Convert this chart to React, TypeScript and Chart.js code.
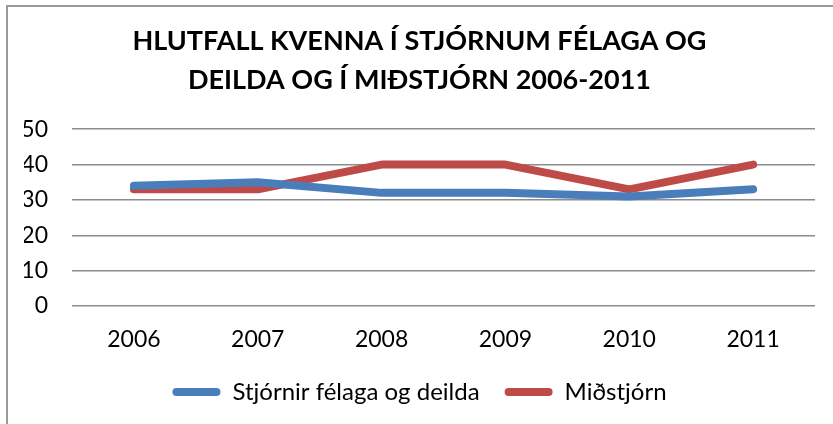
import React, { useEffect, useRef } from "react";
import { Chart, registerables } from "chart.js";

Chart.register(...registerables);

const TITLE_LINES = ["HLUTFALL KVENNA Í STJÓRNUM FÉLAGA OG", "DEILDA OG Í MIÐSTJÓRN 2006-2011"];
const YEARS = ["2006", "2007", "2008", "2009", "2010", "2011"];
const SERIES_NAMES = ["Stjórnir félaga og deilda", "Miðstjórn"];
const STJORNIR_VALUES = [34, 35, 32, 32, 31, 33];
const MIDSTJORN_VALUES = [33, 33, 40, 40, 33, 40];
const SERIES_COLORS = ["#4A7EBB", "#BE4B48"];
const Y_MIN = 0;
const Y_MAX = 50;
const Y_STEP = 10;

const FONT = "Lato, 'Open Sans', sans-serif";

const frameBorder = {
  id: "frameBorder",
  beforeDraw(chart: any) {
    const ctx = chart.ctx;
    ctx.save();
    ctx.strokeStyle = "#9a9a9a";
    ctx.lineWidth = 2;
    ctx.beginPath();
    ctx.moveTo(7, chart.height);
    ctx.lineTo(7, 6);
    ctx.lineTo(chart.width, 6);
    ctx.stroke();
    ctx.restore();
  },
};

export default function App() {
  const ref = useRef<HTMLCanvasElement | null>(null);

  useEffect(() => {
    document.body.style.margin = "0";
    const canvas = ref.current;
    if (!canvas) return;
    const chart = new Chart(canvas, {
      type: "line",
      data: {
        labels: YEARS,
        datasets: [
          {
            label: SERIES_NAMES[0],
            data: STJORNIR_VALUES,
            borderColor: SERIES_COLORS[0],
            backgroundColor: SERIES_COLORS[0],
            borderWidth: 8,
            borderCapStyle: "round",
            borderJoinStyle: "round",
            pointRadius: 0,
            tension: 0,
          },
          {
            label: SERIES_NAMES[1],
            data: MIDSTJORN_VALUES,
            borderColor: SERIES_COLORS[1],
            backgroundColor: SERIES_COLORS[1],
            borderWidth: 8,
            borderCapStyle: "round",
            borderJoinStyle: "round",
            pointRadius: 0,
            tension: 0,
          },
        ],
      },
      options: {
        responsive: false,
        animation: false,
        layout: { padding: { left: 24, right: 18, top: 0, bottom: 10 } },
        plugins: {
          title: {
            display: true,
            text: TITLE_LINES,
            color: "#000",
            font: { family: FONT, size: 27, weight: "bold", lineHeight: 1.43 },
            padding: { top: 22, bottom: 30 },
          },
          legend: {
            display: true,
            position: "bottom",
            labels: {
              color: "#000",
              font: { family: FONT, size: 24 },
              boxWidth: 48,
              boxHeight: 8,
              padding: 25,
              generateLabels: (c: any) =>
                c.data.datasets.map((ds: any, i: number) => ({
                  text: ds.label,
                  fillStyle: ds.borderColor,
                  strokeStyle: ds.borderColor,
                  lineWidth: 0,
                  borderRadius: 4,
                  fontColor: "#000",
                  datasetIndex: i,
                  hidden: false,
                })),
            },
          },
          tooltip: { enabled: false },
        },
        scales: {
          x: {
            offset: true,
            afterFit: (axis: any) => {
              axis.height = 49;
            },
            grid: { display: false, drawTicks: false, tickLength: 0 },
            border: { display: false },
            ticks: { color: "#000", font: { family: FONT, size: 23 }, padding: 20 },
          },
          y: {
            min: Y_MIN,
            max: Y_MAX,
            afterFit: (axis: any) => {
              axis.width = 48;
            },
            grid: { color: "#8c8c8c", lineWidth: 1.5, drawTicks: false, tickLength: 0 },
            border: { display: false },
            ticks: { stepSize: Y_STEP, color: "#000", font: { family: FONT, size: 23 }, padding: 24 },
          },
        },
      },
      plugins: [frameBorder],
    });
    return () => chart.destroy();
  }, []);

  return <canvas ref={ref} width={833} height={424} style={{ display: "block" }} />;
}
